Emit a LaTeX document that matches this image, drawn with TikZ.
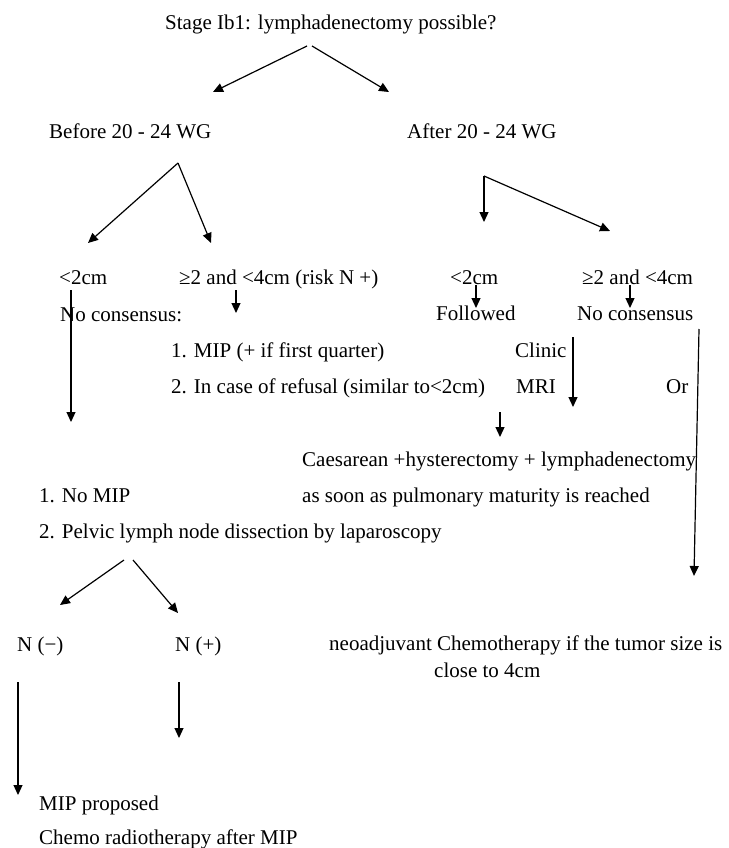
\documentclass[tikz,border=0pt]{standalone}
\usepackage{fontspec}
\setmainfont{Liberation Serif}
\usetikzlibrary{arrows.meta}
\begin{document}
\begin{tikzpicture}[x=1pt,y=-1pt,
  lbl/.style={anchor=base west,inner sep=0pt,font=\fontsize{21}{25}\selectfont},
  arr/.style={line width=1.2pt,-{Triangle[length=10pt,width=9pt]}}]
\fill[white] (0,0) rectangle (728,848);
\useasboundingbox (0,0) rectangle (728,848);
% text nodes
\node[lbl] (title) at (165,30) {Stage Ib1: lymphadenectomy possible?};
\node[lbl] (before) at (49,139) {Before 20 - 24 WG};
\node[lbl] (after) at (407,139) {After 20 - 24 WG};
\node[lbl] (lt2a) at (59,284) {<2cm};
\node[lbl] (ge2a) at (179,284) {≥2 and <4cm (risk N +)};
\node[lbl] (lt2b) at (450,284) {<2cm};
\node[lbl] (ge2b) at (582,284) {≥2 and <4cm};
\node[lbl] (nocons) at (60,321) {No consensus:};
\node[lbl] (followed) at (436,320) {Followed};
\node[lbl] (noconsb) at (577,320) {No consensus};
\node[lbl] (mip1) at (171,357) {1. MIP (+ if first quarter)};
\node[lbl] (clinic) at (515,357) {Clinic};
\node[lbl] (refusal) at (171,393) {2. In case of refusal (similar to<2cm)};
\node[lbl] (mri) at (516,393) {MRI};
\node[lbl] (or) at (666,393) {Or};
\node[lbl] (caes) at (302,466) {Caesarean +hysterectomy + lymphadenectomy};
\node[lbl] (nomip) at (39,502) {1. No MIP};
\node[lbl] (soon) at (302,502) {as soon as pulmonary maturity is reached};
\node[lbl] (pelvic) at (39,538) {2. Pelvic lymph node dissection by laparoscopy};
\node[lbl] (nneg) at (17,651) {N (−)};
\node[lbl] (npos) at (175,651) {N (+)};
\node[lbl] (neo) at (329,650) {neoadjuvant Chemotherapy if the tumor size is};
\node[lbl] (close) at (434,677) {close to 4cm};
\node[lbl] (mipprop) at (39,810) {MIP proposed};
\node[lbl] (chemo) at (39,844) {Chemo radiotherapy after MIP};
% connector end points
\coordinate (t1) at (307,46);  \coordinate (t1e) at (213,92);
\coordinate (t2) at (312,46);  \coordinate (t2e) at (389,92);
\coordinate (b0) at (178,163); \coordinate (b1) at (88,243); \coordinate (b2) at (211,243);
\coordinate (a0) at (484,176); \coordinate (a1) at (484,222); \coordinate (a2) at (610,231);
\coordinate (s1) at (476,285); \coordinate (s1e) at (476,308);
\coordinate (s2) at (630,285); \coordinate (s2e) at (630,308);
\coordinate (l1) at (71,290);  \coordinate (l1e) at (71,422);
\coordinate (g1) at (236,290); \coordinate (g1e) at (236,313);
\coordinate (c1) at (573,337); \coordinate (c1e) at (573,407);
\coordinate (m1) at (500,412); \coordinate (m1e) at (500,437);
\coordinate (r1) at (699,329); \coordinate (r1e) at (694,576);
\coordinate (p1) at (124,560); \coordinate (p1e) at (60,605);
\coordinate (p2) at (133,560); \coordinate (p2e) at (178,613);
\coordinate (n1) at (18,682);  \coordinate (n1e) at (18,795);
\coordinate (n2) at (179,682); \coordinate (n2e) at (179,738);
% connectors
\draw[arr] (t1) -- (t1e);
\draw[arr] (t2) -- (t2e);
\draw[arr] (b0) -- (b1);
\draw[arr] (b0) -- (b2);
\draw[arr] (a0) -- (a1);
\draw[arr] (a0) -- (a2);
\draw[arr] (s1) -- (s1e);
\draw[arr] (s2) -- (s2e);
\draw[arr] (l1) -- (l1e);
\draw[arr] (g1) -- (g1e);
\draw[arr] (c1) -- (c1e);
\draw[arr] (m1) -- (m1e);
\draw[arr] (r1) -- (r1e);
\draw[arr] (p1) -- (p1e);
\draw[arr] (p2) -- (p2e);
\draw[arr] (n1) -- (n1e);
\draw[arr] (n2) -- (n2e);
\end{tikzpicture}
\end{document}
